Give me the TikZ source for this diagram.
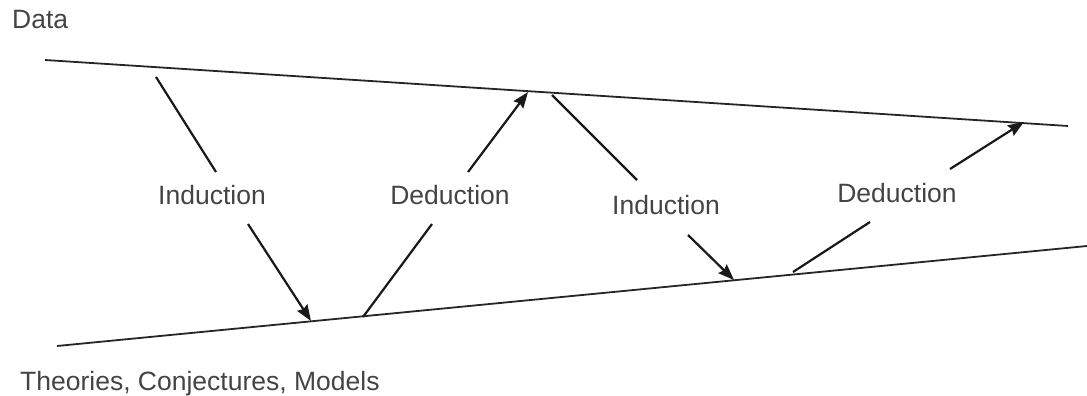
\documentclass[tikz,border=0pt]{standalone}
\usepackage{fontspec}
\setmainfont{Liberation Sans}
\usetikzlibrary{arrows.meta}
\definecolor{txt}{HTML}{444444}
\tikzset{
  lbl/.style={text=txt, font=\fontsize{26.5}{30}\selectfont, inner sep=0pt, anchor=center},
  axis/.style={line width=1.8pt, draw=black!85},
  seg/.style={line width=2.2pt, draw=black!90},
  arr/.style={seg, -{Stealth[length=16pt, width=12pt, inset=2pt]}}
}
\begin{document}
\begin{tikzpicture}[x=1pt,y=-1pt]
\useasboundingbox (0,0) rectangle (1087,396);
% frame lines
\coordinate (dA) at (45,60);
\coordinate (dB) at (1068,126);
\coordinate (tA) at (57,346);
\coordinate (tB) at (1087,246);
\draw[axis] (dA) -- (dB);
\draw[axis] (tA) -- (tB);
% labels
\node[lbl, anchor=west] (data) at (12,20) {Data};
\node[lbl, anchor=west] (theo) at (20,384) {Theories, Conjectures, Models};
\node[lbl] (ind1) at (212,195) {Induction};
\node[lbl] (ded1) at (450,195) {Deduction};
\node[lbl] (ind2) at (666,205) {Induction};
\node[lbl] (ded2) at (897,193) {Deduction};
% induction 1
\coordinate (a1s) at (156,77);
\coordinate (a1e) at (216,172);
\coordinate (a1b) at (248,224);
\coordinate (a1t) at (311,321);
\draw[seg] (a1s) -- (a1e);
\draw[arr] (a1b) -- (a1t);
% deduction 1
\coordinate (b1s) at (363,317);
\coordinate (b1e) at (432,224);
\coordinate (b1b) at (468,172);
\coordinate (b1t) at (528,92);
\draw[seg] (b1s) -- (b1e);
\draw[arr] (b1b) -- (b1t);
% induction 2
\coordinate (c1s) at (552,95);
\coordinate (c1e) at (637,180);
\coordinate (c1b) at (688,235);
\coordinate (c1t) at (734,280);
\draw[seg] (c1s) -- (c1e);
\draw[arr] (c1b) -- (c1t);
% deduction 2
\coordinate (e1s) at (793,272);
\coordinate (e1e) at (870,222);
\coordinate (e1b) at (950,169);
\coordinate (e1t) at (1024,122);
\draw[seg] (e1s) -- (e1e);
\draw[arr] (e1b) -- (e1t);
\end{tikzpicture}
\end{document}
